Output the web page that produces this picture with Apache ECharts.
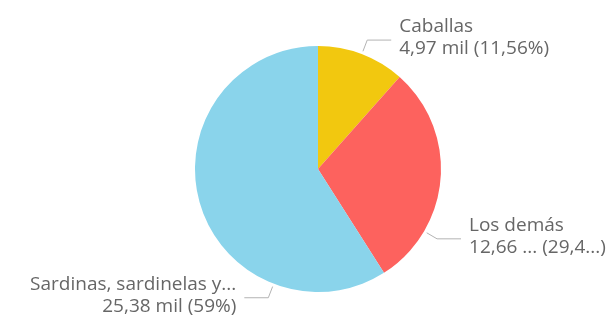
<!DOCTYPE html>
<html>
<head>
<meta charset="UTF-8">
<title>Pie</title>
<script type="text/javascript" src="https://cdn.jsdelivr.net/npm/echarts@6/dist/echarts.min.js"></script>
<style>
html, body { margin: 0; padding: 0; background: #fff; }
#chart { width: 609px; height: 319px; }
</style>
</head>
<body>
<div id="chart"></div>
<script type="text/javascript">
// datos
var categories = ["Caballas", "Los demás", "Sardinas, sardinelas y espadines"];
var values = [4.97, 12.66, 25.38];
// texto tal como se muestra (recortado)
var labelNames = ["Caballas", "Los demás", "Sardinas, sardinelas y..."];
var labelValues = ["4,97 mil (11,56%)", "12,66 ... (29,4...)", "25,38 mil (59%)"];
var colors = ["#F2C80F", "#FD625E", "#8AD4EB"];
// angulo (grados, horario desde arriba) donde sale la linea de cada etiqueta
var labelAngles = [20.9, 120.4, 201.1];

var CX = 318, CY = 169, R = 123;

var chart = echarts.init(document.getElementById("chart"));

var data = [];
for (var i = 0; i < categories.length; i++) {
	data.push({ name: categories[i], value: values[i], itemStyle: { color: colors[i] } });
}

var option = {
	animation: false,
	series: [{
		type: "pie",
		center: [CX, CY],
		radius: R,
		startAngle: 90,
		clockwise: true,
		data: data,
		label: {
			color: "#666666",
			fontFamily: "Open Sans",
			fontSize: 19,
			lineHeight: 22,
			overflow: "none",
			formatter: function (p) {
				return labelNames[p.dataIndex] + "\n" + labelValues[p.dataIndex];
			}
		},
		labelLine: {
			length: 12,
			length2: 24,
			lineStyle: { color: "#b3b3b3", width: 1 }
		},
		labelLayout: function (params) {
			var a = labelAngles[params.dataIndex] * Math.PI / 180;
			var sx = Math.sin(a), sy = -Math.cos(a);
			var p0 = [CX + (R + 3) * sx, CY + (R + 3) * sy];
			var p1 = [p0[0] + 12 * sx, p0[1] + 12 * sy];
			var dir = sx >= 0 ? 1 : -1;
			var p2 = [p1[0] + 24 * dir, p1[1]];
			return {
				x: p2[0] + 8 * dir,
				y: p2[1] - 2,
				align: dir > 0 ? "left" : "right",
				verticalAlign: "middle",
				labelLinePoints: [p0, p1, p2]
			};
		}
	}]
};

chart.setOption(option);
</script>
</body>
</html>
